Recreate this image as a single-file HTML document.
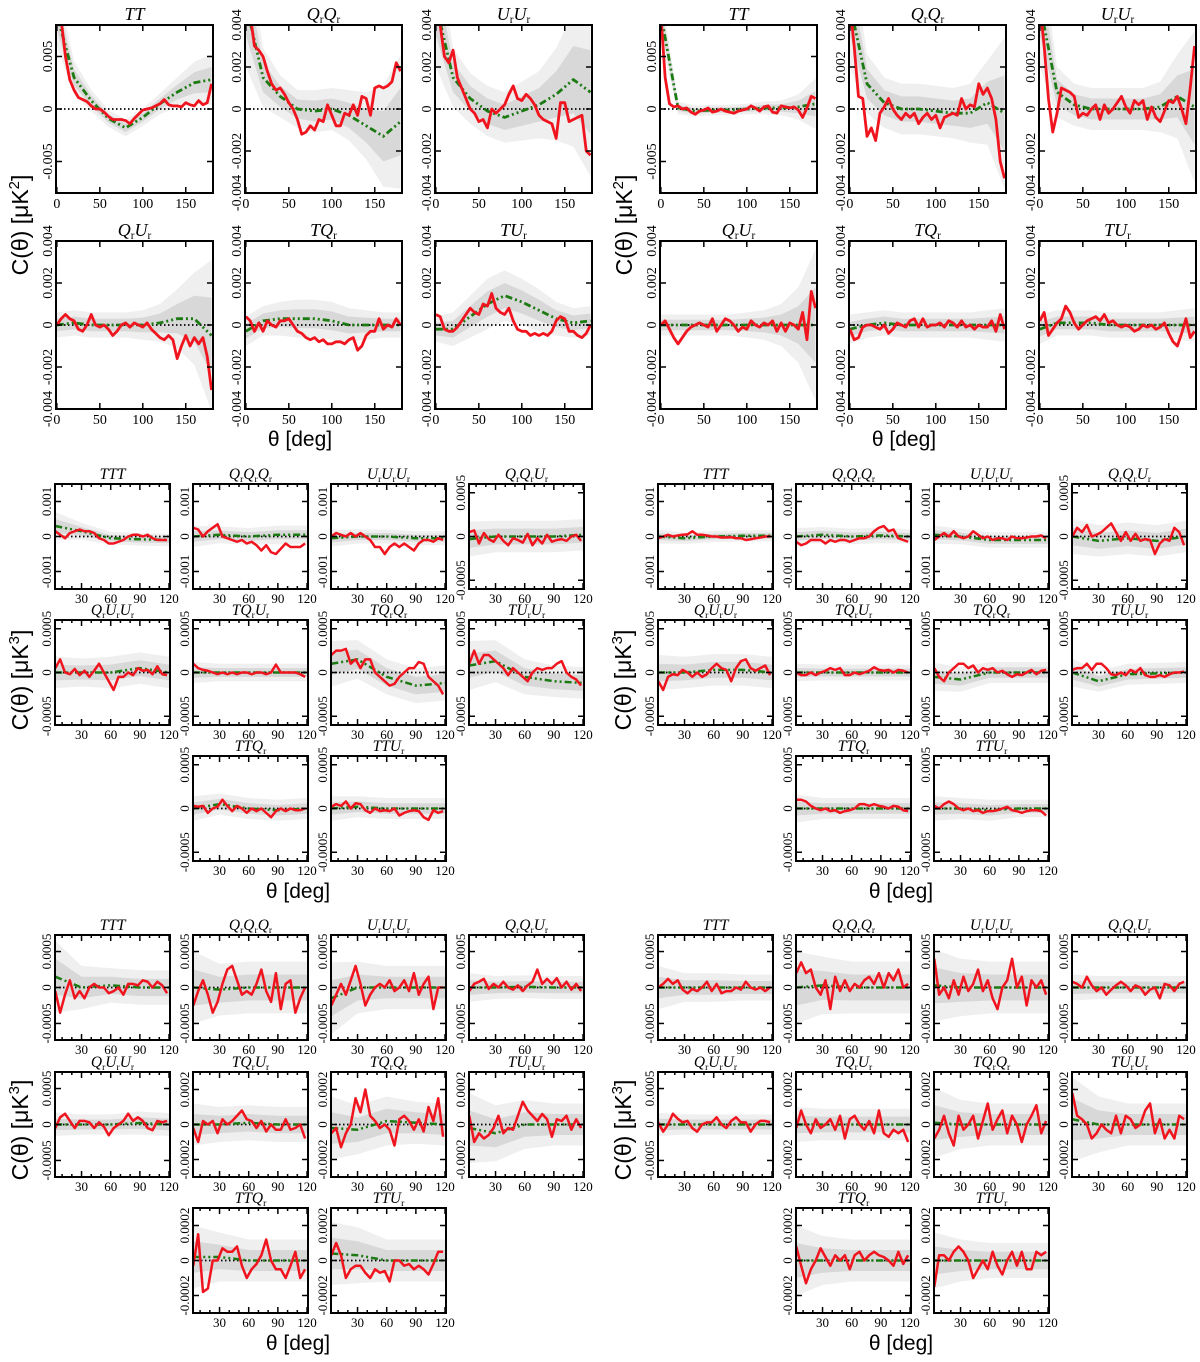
<!DOCTYPE html>
<html><head><meta charset="utf-8"><style>
html,body{margin:0;padding:0;background:#fff;}
svg{display:block;}
</style></head><body>
<svg id="fig" width="1200" height="1362" viewBox="0 0 1200 1362"></svg>
<script>
// ---------- theta grids ----------
const thetaFine1 = [0,5,10,15,20,25,30,35,40,45,50,55,60,65,70,75,80,85,90,95,100,105,110,115,120,125,130,135,140,145,150,155,160,165,170,175,180];
const thetaCoarse1 = [0,20,40,60,80,100,120,140,160,180];
const thetaFine2 = [3,8,13,18,23,28,33,38,43,48,53,58,63,68,73,78,83,88,93,98,103,108,113,118];
const thetaCoarse2 = [3,30,60,90,120];
// ---------- block 1 (units 1e-3 uK^2) ----------
const titles1 = ['TT','QrQr','UrUr','QrUr','TQr','TUr'];
const red1L = [
[9,8.5,5,2.8,1.8,1.1,0.9,0.7,0.3,0,0,-0.3,-0.7,-1,-1,-1,-1.1,-1.4,-0.9,-0.5,-0.1,0,0.1,0.3,0.5,0.9,0.4,0.3,0.3,0.2,0.6,0.4,0.3,0.8,0.4,0.6,2.4],
[5,4.5,3,2.8,2.5,1.8,1.2,0.9,1,0.7,0.3,0,-0.5,-1.2,-1.1,-0.8,-1,-0.5,-0.6,0.2,-0.3,-0.8,-0.8,-0.2,-0.3,0.2,-0.3,0.6,0.5,-0.3,1,1.1,1,1.1,1.3,2.2,1.8],
[5,4,2.5,2.2,2.8,1.5,1,0.5,0,-0.2,-0.6,-0.5,-0.9,0,-0.2,0,0.2,0.7,1.1,0.5,0.4,0.7,0.5,0.2,-0.3,-0.5,-0.6,-0.7,-1.4,0.3,0.3,-0.6,-0.5,-0.4,-0.3,-2,-2.2],
[0,0.3,0.5,0.3,0.2,-0.2,-0.3,0,0.5,0,-0.1,0,-0.2,-0.5,-0.3,0,0.1,-0.1,0.1,0,-0.1,0.1,-0.2,-0.4,-0.6,-0.7,-0.5,-0.7,-1.6,-1,-0.5,-1,-0.6,-0.9,-0.6,-1.5,-3.1],
[0.4,0.2,-0.3,0.1,-0.3,0.2,0,-0.1,0.2,0.2,0.3,0,-0.3,-0.4,-0.6,-0.7,-0.6,-0.8,-0.7,-0.9,-0.9,-0.8,-0.8,-0.9,-0.7,-0.6,-1.2,-1,-0.5,-0.3,-0.3,0.3,-0.2,0,-0.1,0.3,0],
[0.5,0.4,-0.2,-0.3,-0.3,-0.1,0.2,0.5,0.8,0.6,0.5,1,0.9,1.5,0.8,0.6,0.5,0.8,0.2,-0.2,-0.3,-0.3,-0.5,-0.4,-0.5,-0.4,-0.5,-0.3,0.2,0.4,0.3,-0.3,-0.3,-0.5,-0.6,-0.4,0]];
const green1L = [
[9,3,0.8,-0.9,-1.8,-0.8,0.5,1.6,2.5,2.8],
[5,1.5,0.6,0,-0.1,0,-0.3,-0.8,-1.3,-0.6],
[5,1.5,0.5,-0.1,-0.4,-0.1,0.2,0.7,1.4,0.8],
[0,0.1,0,0,0,0,0.1,0.3,0.3,-0.5],
[-0.3,0.2,0.3,0.3,0.3,0.2,0,0,0,0],
[-0.2,-0.2,0.4,1,1.4,1.1,0.7,0.3,0.1,0.2]];
const sigma1L = [
[1.5,0.8,0.5,0.4,0.4,0.4,0.5,0.7,1,1.2],
[1.5,0.7,0.5,0.45,0.5,0.5,0.6,0.8,1.2,1.6],
[1.5,0.7,0.6,0.6,0.6,0.7,0.8,1.1,1.6,2],
[0.3,0.3,0.3,0.3,0.3,0.35,0.45,0.7,1.1,1.8],
[0.35,0.35,0.4,0.45,0.45,0.45,0.4,0.35,0.3,0.3],
[0.3,0.4,0.5,0.6,0.6,0.55,0.5,0.4,0.35,0.35]];
const red1R = [
[9,3,0.5,0.2,0.3,0,0.1,-0.3,-0.5,-0.2,-0.1,0.1,-0.3,-0.2,0,-0.2,-0.3,-0.4,-0.2,-0.1,0,0.3,0.1,-0.2,0.2,0.3,-0.3,-0.4,0.3,0.2,0.1,0.2,-0.1,-0.8,0.1,1.2,1],
[5,3,0.6,0.5,-1.3,-0.9,-1.5,-0.2,0.1,0.5,0,-0.3,-0.5,-0.2,-0.4,-0.2,-0.7,-0.4,-0.2,-0.5,-0.3,-0.9,-0.4,-0.3,-0.2,-0.3,0.5,0,0.2,0.1,1.2,0.7,1,0.5,-0.5,-2.5,-3.3],
[5,3,0.5,-1.1,-0.2,1,0.9,0.8,0.6,-0.4,-0.2,-0.3,0,0.2,-0.5,0.2,-0.2,0,0.3,0.6,0.1,-0.2,0.4,0.2,0.4,-0.5,0.1,-0.4,-0.6,-0.1,0.4,0.3,0.6,0,-0.7,1,3],
[0,0.2,-0.2,-0.6,-0.9,-0.6,-0.3,-0.1,0,0.1,0,-0.1,0.3,-0.3,0,0.3,0.2,0,-0.3,-0.1,-0.2,0.2,0,-0.1,0.1,0,0.2,-0.3,0.1,-0.3,0.1,0,-0.2,0.6,-0.7,1.6,0.8],
[-0.2,-0.7,-0.6,-0.1,0,0,-0.1,-0.2,0,-0.4,-0.2,0.1,0,-0.1,0.2,0.3,-0.1,0.3,-0.1,0,0,0.1,-0.1,0.2,0.1,-0.1,0.2,-0.1,0,-0.2,0,-0.1,-0.1,0.2,-0.3,0.5,-0.2],
[0.2,0.6,-0.5,-0.2,0.1,0.3,0.9,0.6,0.1,-0.2,0,0.2,0.3,0.4,0.2,0.5,0.1,0.2,0,-0.1,0,-0.1,-0.3,-0.2,0,-0.1,0,-0.2,-0.1,0.1,-0.4,-0.8,-1,-0.4,0.3,-0.6,-0.3]];
const green1R = [
[9,0.1,-0.2,-0.1,-0.1,0,0.1,0.1,0.2,0.5],
[5,1.2,0.3,0,0,-0.1,-0.2,-0.2,0.3,-0.2],
[5,0.8,0.2,0,0,0,0,0.1,0.6,0.1],
[0,0,0,0,0,0,0,0,0,0],
[-0.2,0,0.1,0,0,0,0,0,0,0],
[-0.2,0.1,0.1,0.1,0,0,0,0,0,0]];
const sigma1R = [
[1.2,0.3,0.25,0.25,0.25,0.25,0.3,0.35,0.6,1.2],
[1.5,0.7,0.6,0.6,0.6,0.6,0.6,0.7,1,1.8],
[1.5,0.6,0.5,0.5,0.5,0.5,0.5,0.6,1,1.8],
[0.25,0.25,0.25,0.25,0.25,0.3,0.35,0.5,0.9,1.8],
[0.35,0.3,0.3,0.3,0.3,0.3,0.3,0.3,0.35,0.4],
[0.35,0.3,0.3,0.3,0.3,0.3,0.3,0.3,0.35,0.4]];
// ---------- block 2 (units 1e-4 uK^3) ----------
const titles23 = ['TTT','QrQrQr','UrUrUr','QrQrUr','QrUrUr','TQrUr','TQrQr','TUrUr','TTQr','TTUr'];
const red2L = [
[1.5,0.5,-0.5,1,1.5,2,1.5,1.5,1,-0.5,-1,-2,-2,-1.5,-1,0,0.5,0.5,0,0.5,-0.5,-1,-1,-1],
[2.5,2,0,1.5,2.5,3.5,0,-0.5,-1,-1.5,-1,-2,-1.5,-2.5,-4,-2.5,-4.5,-5,-3.5,-2,-3,-3,-3,-2],
[0,1,0.5,0,1,0,1,0,-1,-3,-3,-5,-3,-2,-3,-2,-3,-4,-2,-1,-1,-1.5,-0.5,-1],
[0.5,0.7,-0.8,0.4,-0.3,-0.6,0.2,-0.5,-1,-0.2,-0.4,-0.7,0.3,-1,-0.2,-0.8,0.2,-0.6,-0.4,-0.3,-0.5,0,0.2,-0.5],
[0.5,1.5,0,-0.2,0.4,-0.3,0.2,-0.5,0.2,1,0,-1,-2,-0.5,-0.5,0,-0.3,0.5,0.2,0.3,-0.2,0.7,-0.2,-0.3],
[1,0.5,0.3,0.2,0,-0.2,0,-0.2,0,-0.2,0,0,-0.2,0,0,-0.2,0,0.9,0,0,0,0,-0.2,-0.5],
[2,2.5,2.5,2.7,1,1.5,0.5,1.5,1.5,0,-0.5,-1,-1.5,-1.3,-0.5,0,0.5,0.5,1.2,1,-0.5,-1,-1.5,-2.5],
[1,2.5,1,2,2,1.5,1,0.5,-0.3,0.5,0,-0.5,-1,0,0.5,0.3,0.5,0.5,1,1.3,0,-0.5,-0.8,-1.5],
[0.3,0.2,0.3,-0.5,0,0.2,1,0.3,-0.3,0.3,0,-0.5,0,-0.3,0,-0.5,-1,-0.3,0,-0.3,0,-0.2,-0.2,0],
[0.2,0.5,0.3,0.8,0,0.6,0.5,-0.2,-0.5,0,-0.3,-0.2,-0.3,0,-0.8,-0.5,-0.3,-0.2,-0.3,-1,-1.3,-0.2,-0.5,-0.3]];
const green2L = [[3,1.5,-0.5,-0.8,-1],[0,0.5,0,0.5,0.5],[-0.5,0,0,-0.5,-0.5],[-0.3,0,0,0,0.2],[0,0,0,0.5,0],[0,0,0,0,0],[1,1.5,-0.5,-1.5,-1.2],[0.8,1.3,-0.5,-1,-1.2],[0,0.5,0,-0.2,0],[0,0.2,0,0,0]];
const sigma2L = [[2,1.2,0.9,0.9,0.9],[1.5,1.2,1.2,1.3,1.3],[1.2,1,1,1,1],[1,0.9,0.9,0.9,0.9],[0.9,0.8,0.9,0.9,0.9],[0.6,0.5,0.5,0.5,0.5],[1.3,1.1,1,1,1],[1.4,1.2,1,0.9,0.9],[0.7,0.6,0.6,0.6,0.6],[0.7,0.6,0.6,0.6,0.6]];
const red2R = [
[-0.5,0,0.5,0,0.3,0.5,0.6,1.5,0.5,0.5,0.3,0,0,-0.3,-0.3,-0.2,-0.5,-0.5,-1,-0.8,-0.5,-0.3,0,0],
[-1.5,-2.5,-2,-1,-1,-1,-2,-1,-1.5,-1,-1,-1.5,-1,-0.5,-0.5,0,1.5,2.5,3,1.5,2,-0.5,-1,-1.5],
[-1,0,1,0,1.5,0,-0.5,0,1.5,0.5,-0.5,0,-1,-0.5,-0.5,-1,0,-0.5,-0.5,-0.3,0,0,0.3,-0.5],
[0,1,0.5,1.3,0,0.2,0.5,1,1.5,0.5,-0.5,0.5,-0.5,0.3,-0.5,-0.3,-0.4,-2,-0.8,-0.3,-0.5,1,0.5,-1],
[-1,-2,-0.5,-0.2,-0.3,0.3,0,-0.5,0,-0.5,-0.2,0.5,1,0.5,0.3,-1,0.5,1.3,1.5,0.5,0.2,0.5,0.8,-0.3],
[0,-0.3,-0.3,0,-0.3,0,0.2,0.5,0.3,0.5,-0.3,-0.3,0,-0.2,0,0.2,0.6,0.3,0.2,0.3,0,0.3,0.2,0],
[0.5,-0.5,-1,0,0.5,1,1,0.5,0.8,0,0.5,0.3,0.5,0,0.2,-0.2,-0.5,-0.2,-0.3,0,0.3,-0.2,0.2,0.3],
[0.3,0.5,0.5,1,0.3,1,1,0.5,-0.2,-0.3,0,-0.3,0.3,0,0.5,-0.3,-0.5,-0.5,-0.3,-0.5,-0.2,0,0,0.1],
[1,1,0.8,0.3,0,-0.2,0,-0.3,-0.2,-0.5,-0.3,-0.2,0,0.5,0.5,0.3,0.5,0.3,0.2,0,0.3,0.2,-0.2,-0.3],
[0.3,0,0.5,0.8,0.5,0,-0.2,0,-0.3,-0.2,-0.5,-0.3,-0.3,-0.2,0,0.2,-0.2,-0.3,-0.5,-0.3,-0.2,-0.2,-0.3,-0.8]];
const green2R = [[0,-0.5,0,0.2,0.2],[0,0.5,0,0.3,0],[0.5,0,-1,-1,-1],[0,-0.5,-0.2,-0.5,0],[0,0,0.3,0.3,0],[0,0,0,0,0],[-0.5,-0.8,0,0,0],[0,-1,-0.2,-0.1,0],[0,0,0,0,0],[0,0,-0.2,0,0]];
const sigma2R = [[1,0.8,0.8,0.8,0.8],[1.2,1.1,1.1,1.1,1],[1.3,1.1,1.1,1.1,1.1],[1,0.9,0.9,0.9,0.9],[1,0.9,0.9,0.9,0.9],[0.5,0.45,0.45,0.45,0.45],[0.8,0.7,0.6,0.6,0.6],[0.8,0.6,0.6,0.6,0.6],[0.8,0.6,0.6,0.6,0.6],[0.7,0.6,0.6,0.5,0.5]];
// ---------- block 3 (units 1e-4 uK^3) ----------
const red3L = [
[-0.5,-3.5,-1,1,-1.5,-0.5,-1.5,0,0.5,0,0,-0.8,-0.5,0,-1,0.5,0.5,0.3,1,0.8,0,0.8,0.3,-0.8],
[-2.5,-0.5,1,-1,-3.5,-2,0.5,2.5,3,1,-1,-0.5,-1,0.5,2.5,-0.5,-2,2,-3,0.5,1,-3.5,-1.5,0],
[-2.5,-1,0.5,-1,1,3,0.5,-2.5,-1,0,0.5,0,1,-0.5,0,1,-0.5,2,-1,0.5,1.5,-3,0,0],
[-0.5,0.5,0.8,1.2,-0.2,0.5,0,0.8,0,-0.3,0.3,-0.5,0.3,0.8,2.5,0.5,1.2,0.5,1.3,0,0.8,-0.3,0.5,-0.5],
[-0.5,1,1.5,0.5,-0.5,0.5,0.5,0.3,-0.5,0.3,-0.3,-1.5,-0.5,0,0.5,1.5,0.5,1,0.5,-0.5,-0.8,0.5,0.3,0.5],
[-0.2,-1,0.2,0,0.2,-0.5,0.3,0,0.2,0.5,0.8,0.3,0.2,-0.2,0.2,-0.4,0,-0.3,-0.3,0.3,-0.3,-0.2,0,-0.8],
[-0.5,-0.2,-1.3,-0.5,0,1.5,0.7,2,0.5,0.2,-0.2,0,-0.3,-1.2,0.3,0.5,0.2,-0.3,0.3,-0.4,1,0.2,1.5,-0.7],
[0.5,-1,-0.5,-0.8,-0.6,-0.2,0.5,-0.5,-0.2,-0.3,0.5,1.3,0.8,0.5,0.2,0.6,0.3,-0.7,0.3,0.2,0.5,-0.3,0.3,-0.2],
[-0.3,1.5,-1.8,-1.6,0,0,0.7,0.5,0.5,0.8,-0.3,-1,-0.5,-0.2,0.3,1.2,0,-0.5,-0.5,-1,-0.3,0.5,-1,-0.5],
[0.3,1,0.3,-1,-0.5,-0.3,-0.3,-0.7,-1,-0.5,-0.7,-0.6,-1.2,0,0,-0.3,-0.2,-0.5,-0.3,-0.5,-0.8,-0.2,0.5,0.5]];
const green3L = [[1.5,0,0.3,0,0],[0,-0.3,0,0,0],[-1.5,0,0,0,0],[0,0,0.1,0,0],[0,0,0,0.2,0],[0,0,0.1,0,0],[-0.2,-0.3,0.2,0.1,0],[-0.2,-0.5,0,0,0],[0.2,0.2,0,0,0],[0.4,0.3,0,0,0]];
const sigma3L = [[2.5,1.5,1.2,1.2,1.2],[2.5,1.8,1.8,1.8,1.8],[2.5,1.8,1.5,1.5,1.5],[1,0.8,0.8,0.8,0.8],[0.8,0.7,0.7,0.8,0.8],[0.6,0.5,0.5,0.5,0.5],[0.9,0.7,0.7,0.6,0.6],[1,0.8,0.7,0.6,0.6],[0.9,0.7,0.6,0.6,0.6],[0.9,0.8,0.6,0.6,0.6]];
const red3R = [
[0,0.5,1.2,0.5,1,-0.3,-0.8,-0.2,-0.5,0,0.8,-0.5,0.5,-0.8,-0.5,-0.5,0,-0.3,0.8,0,-0.3,0,-0.5,0],
[2,3.5,2,2.5,0,-1,1,-3,1.5,-0.5,1,-0.5,0.5,0,1,1.5,0.5,2,0,2,1,2.5,0,0.5],
[4,-1,0,-1.5,1,-1,1.5,-0.5,0.5,2.5,-0.5,1,-1.5,-3,0,1,4,0,1.5,-2.5,1,0,1,-1],
[0.8,0.5,0,1.5,0.3,-0.5,0,-1,-0.3,0.3,0.8,0.3,-0.5,0.3,0,-1,-0.3,0,-1.5,0.5,0.3,-0.5,0.5,0.8],
[0.3,-1,0,1.5,0.8,0.3,0.5,-0.5,-1,0,0.3,0.3,1,0,-0.5,0.5,1,0.3,0.3,-1,0,0.5,0.5,0.3],
[-0.2,0.8,0,-0.5,0.3,-0.2,0,0.3,-0.3,0.5,-0.8,0.3,0.5,0,-0.3,0.2,-0.5,0.8,-0.5,-0.7,-0.3,-0.5,-0.3,-1],
[-0.8,-0.3,0.5,-0.5,-1.2,0.5,-0.3,0,0.5,-0.8,0.2,1.2,-0.3,0.3,0.8,-0.5,0.5,0,-1,0,0.5,1.1,-0.5,0.2],
[1.8,0.5,0.3,0,-0.8,-0.5,0,-0.3,-0.5,0.5,-0.5,0.5,0.3,-0.2,0,0.8,1.2,-0.5,0.3,-0.8,-0.3,-0.8,0.5,0.3],
[0.8,-0.3,-1.3,-0.5,0,0.7,0.2,-0.3,0.3,0,0.3,-0.5,0.3,0.5,0,0.3,0.5,0.3,0.2,0,-0.3,0.5,-0.2,0.3],
[-1.5,0.3,0.3,0,0.5,0.8,0.5,0,-1,-0.5,0,-0.5,0.5,-0.3,-0.8,0,0.5,-0.3,0.5,-0.5,-0.5,0.5,0.3,0.5]];
const green3R = [[0,0,0,0,0],[0,0.3,0,0,0],[0.3,0,0,0,0],[0,0,0,0,0],[0,0,0,0,0],[0,0,0,0,0],[0.1,0,0,0,0],[0.3,0,0,0,0],[0,0,0,0,0],[0,0,0,0,0]];
const sigma3R = [[1.5,1,1,0.9,0.9],[2.5,2,1.8,1.8,1.8],[2.5,2,1.8,1.8,1.8],[0.9,0.8,0.8,0.8,0.8],[0.8,0.7,0.7,0.7,0.7],[0.5,0.45,0.45,0.45,0.45],[1,0.7,0.6,0.6,0.6],[1.2,0.8,0.6,0.6,0.6],[1,0.7,0.6,0.6,0.6],[0.8,0.6,0.5,0.5,0.5]];
// ---------- tick labels ----------
const xTicks1 = [0,50,100,150];
const xTicks23 = [30,60,90,120];
const yTicksTT = [5,0,-5];       const yLabTT = ['0.005','0','-0.005'];
const yTicks4 = [4,2,0,-2,-4];   const yLab4 = ['0.004','0.002','0','-0.002','-0.004'];
const yTicks10 = [10,0,-10];     const yLab10 = ['0.001','0','-0.001'];
const yTicks5 = [5,0,-5];        const yLab5 = ['0.0005','0','-0.0005'];
const yTicks2 = [2,0,-2];        const yLab2 = ['0.0002','0','-0.0002'];

const svg = document.getElementById('fig');
const NS = svg.namespaceURI;
function mk(tag, attrs, parent){
  const e = document.createElementNS(NS, tag);
  for (const k in attrs) e.setAttribute(k, attrs[k]);
  parent.appendChild(e);
  return e;
}
let clipId = 0;
function drawPanel(o){
  const g = mk('g', {}, svg);
  
  
  const X = t => o.x + (t - o.xd[0]) / (o.xd[1] - o.xd[0]) * o.w;
  const Y = v => o.y + o.h / 2 - v / o.ylim * o.h / 2;
  const cid = 'c' + (clipId++);
  const cp = mk('clipPath', {id: cid}, g);
  mk('rect', {x: o.x, y: o.y, width: o.w, height: o.h}, cp);
  const pg = mk('g', {'clip-path': 'url(#' + cid + ')'}, g);
  [[2, '#efefef', 'band-2sigma'], [1, '#d8d8d8', 'band-1sigma']].forEach(b => {
    const up = o.thC.map((t, i) => X(t) + ',' + Y(o.green[i] + b[0] * o.sig[i]));
    const dn = o.thC.map((t, i) => X(t) + ',' + Y(o.green[i] - b[0] * o.sig[i])).reverse();
    const p = mk('polygon', {points: up.concat(dn).join(' '), fill: b[1]}, pg);
    
    
  });
  const z = mk('line', {x1: o.x, x2: o.x + o.w, y1: Y(0), y2: Y(0), stroke: '#000', 'stroke-width': 1.8, 'stroke-dasharray': '1.5,2.5'}, pg);
  
  
  const gl = mk('polyline', {points: o.thC.map((t, i) => X(t) + ',' + Y(o.green[i])).join(' '), fill: 'none', stroke: '#1c7a12', 'stroke-width': o.lw, 'stroke-dasharray': '7,3,2,3,2,3'}, pg);
  
  
  const rl = mk('polyline', {points: o.thR.map((t, i) => X(t) + ',' + Y(o.red[i])).join(' '), fill: 'none', stroke: '#f0141e', 'stroke-width': o.lw, 'stroke-linejoin': 'round'}, pg);
  
  
  const fr = mk('rect', {x: o.x, y: o.y, width: o.w, height: o.h, fill: 'none', stroke: '#000', 'stroke-width': 2}, g);
  
  
  for (let t = Math.ceil(o.xd[0] / o.minor) * o.minor; t <= o.xd[1]; t += o.minor) {
    const major = o.xt.indexOf(t) >= 0;
    const L = major ? 6 : 3;
    mk('line', {x1: X(t), x2: X(t), y1: o.y + o.h, y2: o.y + o.h - L, stroke: '#000', 'stroke-width': 1.5}, g);
    mk('line', {x1: X(t), x2: X(t), y1: o.y, y2: o.y + L, stroke: '#000', 'stroke-width': 1.5}, g);
  }
  o.xt.forEach(t => {
    const tx = mk('text', {x: X(t), y: o.y + o.h + o.fs + 1, 'text-anchor': 'middle', 'font-size': o.fs, 'font-family': '"Liberation Serif",serif'}, g);
    tx.textContent = t;
    
    
  });
  o.yt.forEach((v, i) => {
    mk('line', {x1: o.x, x2: o.x + 6, y1: Y(v), y2: Y(v), stroke: '#000', 'stroke-width': 1.5}, g);
    mk('line', {x1: o.x + o.w, x2: o.x + o.w - 6, y1: Y(v), y2: Y(v), stroke: '#000', 'stroke-width': 1.5}, g);
    const tx = mk('text', {x: o.x - 4, y: Y(v), 'text-anchor': 'middle', 'font-size': o.fs, 'font-family': '"Liberation Serif",serif', transform: 'rotate(-90 ' + (o.x - 4) + ' ' + Y(v) + ')'}, g);
    tx.textContent = o.yl[i];
    
    
  });
  const ti = mk('text', {x: o.x + o.w / 2, y: o.y - 5, 'text-anchor': 'middle', 'font-size': o.tfs, 'font-family': '"Liberation Serif",serif', 'font-style': 'italic'}, g);
  
  
  let sub = false;
  for (const c of o.title) {
    if (c === 'r') {
      const s = mk('tspan', {dy: 3, 'font-size': o.tfs * 0.62, 'font-style': 'normal'}, ti);
      s.textContent = 'r'; sub = true;
    } else {
      const s = mk('tspan', sub ? {dy: -3} : {}, ti);
      s.textContent = c; sub = false;
    }
  }
}
function label(txt, x, y, fs, rot, name, sup){
  const t = mk('text', {x: x, y: y, 'text-anchor': 'middle', 'font-size': fs, 'font-family': '"Liberation Sans",sans-serif'}, svg);
  if (rot) t.setAttribute('transform', 'rotate(-90 ' + x + ' ' + y + ')');
  
  
  t.appendChild(document.createTextNode(txt));
  if (sup) {
    const s = mk('tspan', {dy: -fs * 0.4, 'font-size': fs * 0.65}, t);
    s.textContent = sup;
    const e = mk('tspan', {dy: fs * 0.4}, t);
    e.textContent = ']';
  }
}
const cols1 = [56, 245, 435], rows1 = [25, 241];
[[0, red1L, green1L, sigma1L, 'left'], [604, red1R, green1R, sigma1R, 'right']].forEach(B => {
  for (let i = 0; i < 6; i++) {
    drawPanel({name: 'panel-' + B[4] + '-2pt-' + titles1[i].toLowerCase(),
      x: B[0] + cols1[i % 3], y: rows1[Math.floor(i / 3)], w: 157, h: 168,
      xd: [-1, 181.7], ylim: i === 0 ? 8 : 4,
      yt: i === 0 ? yTicksTT : yTicks4, yl: i === 0 ? yLabTT : yLab4,
      xt: xTicks1, minor: 50, fs: 14, tfs: 18, lw: 2.8, title: titles1[i],
      thR: thetaFine1, red: B[1][i], thC: thetaCoarse1, green: B[2][i], sig: B[3][i]});
  }
  label('C(θ) [μK', B[0] + 28, 225, 23, true, 'y-axis-title', '2');
  label('θ [deg]', B[0] + 300, 446, 21, false, 'x-axis-title');
});
const cols23 = [55, 193, 331, 469];
function block(y0, rows, dx, red, green, sig, side, lims, ticks, labs, tag, ylabY, xlabY){
  for (let i = 0; i < 10; i++) {
    const r = i < 4 ? 0 : i < 8 ? 1 : 2;
    const c = i < 8 ? i % 4 : i - 7;
    drawPanel({name: 'panel-' + side + '-' + tag + '-' + titles23[i].toLowerCase(),
      x: dx + cols23[c], y: rows[r], w: 115, h: 105,
      xd: [2.7, 121], ylim: lims[i], yt: ticks[i], yl: labs[i],
      xt: xTicks23, minor: 10, fs: 13, tfs: 15.5, lw: 2.5, title: titles23[i],
      thR: thetaFine2, red: red[i], thC: thetaCoarse2, green: green[i], sig: sig[i]});
  }
  label('C(θ) [μK', dx + 28, ylabY, 23, true, 'y-axis-title', '3');
  label('θ [deg]', dx + 298, xlabY, 21, false, 'x-axis-title');
}
const lim2 = [15,15,15,6,6,6,6,6,6,6];
const tk2 = [yTicks10,yTicks10,yTicks10,yTicks5,yTicks5,yTicks5,yTicks5,yTicks5,yTicks5,yTicks5];
const lb2 = [yLab10,yLab10,yLab10,yLab5,yLab5,yLab5,yLab5,yLab5,yLab5,yLab5];
const lim3L = [7.3,7.3,7.3,7.3,7.3,3,3,3,3,3];
const tk3 = [yTicks5,yTicks5,yTicks5,yTicks5,yTicks5,yTicks2,yTicks2,yTicks2,yTicks2,yTicks2];
const lb3 = [yLab5,yLab5,yLab5,yLab5,yLab5,yLab2,yLab2,yLab2,yLab2,yLab2];
block(0, [484, 620, 756], 0, red2L, green2L, sigma2L, 'left', lim2, tk2, lb2, '3pt-a', 680, 898);
block(0, [484, 620, 756], 603, red2R, green2R, sigma2R, 'right', lim2, tk2, lb2, '3pt-a', 680, 898);
block(0, [935, 1072, 1208], 0, red3L, green3L, sigma3L, 'left', lim3L, tk3, lb3, '3pt-b', 1130, 1350);
block(0, [935, 1072, 1208], 603, red3R, green3R, sigma3R, 'right', lim3L, tk3, lb3, '3pt-b', 1130, 1350);
</script>
</body></html>
